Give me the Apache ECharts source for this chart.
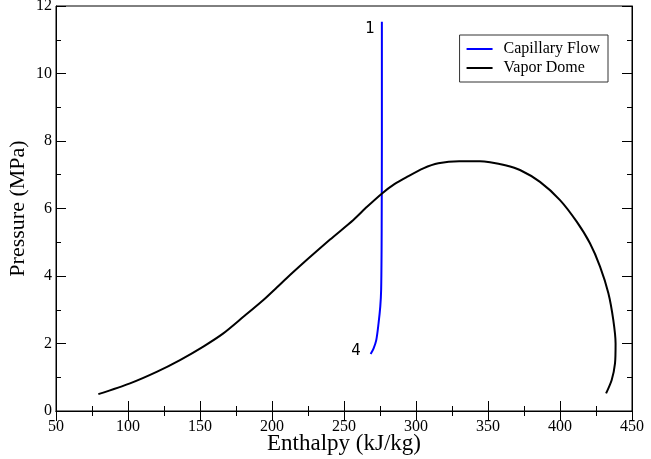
<!DOCTYPE html>
<html><head><meta charset="utf-8">
<script src="https://cdn.jsdelivr.net/npm/echarts@6/dist/echarts.min.js"></script>
<style>html,body{margin:0;padding:0;background:#fff}#c{width:651px;height:459px}</style>
</head><body><div id="c"></div>
<script>
const xTicks = [50,100,150,200,250,300,350,400,450];
const yTicks = [0,2,4,6,8,10,12];
const capH = [276.3,276.3,276.2,276.1,275.8,275.2,274.0,272.4,270.5,268.5];
const capP = [11.53,8.0,6.0,4.8,3.6,3.1,2.6,2.1,1.85,1.69];
const domeH = [79.4,101.4,119.9,136.1,152.3,166.2,180.1,194.0,203.3,212.5,225.2,240.3,256.5,266.0,276.2,285.0,293.5,305.1,315.5,330,344.4,351.4,362.0,372.2,386.1,400.0,411.6,420.8,427.8,433.6,437.0,438.6,438.2,435.9,432.0];
const domeP = [0.50,0.82,1.16,1.51,1.91,2.30,2.79,3.29,3.66,4.03,4.52,5.08,5.66,6.05,6.44,6.72,6.93,7.19,7.34,7.40,7.40,7.37,7.28,7.14,6.79,6.25,5.61,4.97,4.28,3.49,2.70,2.00,1.41,0.92,0.52];
const pointLabels = [{text:'1', h:268.1, p:11.33},{text:'4', h:258.3, p:1.76}];

const zip = (a,b)=>a.map((v,i)=>[v,b[i]]);
const serif = 'Liberation Serif';
const chart = echarts.init(document.getElementById('c'));
const tickStyle = {lineStyle:{color:'#000',width:1}};
const minor = {show:true,splitNumber:2,length:5,lineStyle:{color:'#000'}};
chart.setOption({
  animation:false,
  grid:{left:56,right:19,top:6,bottom:48,show:true,borderColor:'#000',borderWidth:1,
        containLabel:false, outerBoundsMode:'none'},
  legend:{
    right:43, top:35, orient:'vertical', padding:[6,8,6,6],
    borderColor:'#333', borderWidth:1, itemWidth:26, itemHeight:2, itemGap:3,
    textStyle:{fontFamily:serif,fontSize:16,color:'#000',padding:[0,0,0,6]},
    data:['Capillary Flow','Vapor Dome']
  },
  xAxis:[{
    type:'value', min:xTicks[0], max:xTicks[xTicks.length-1], interval:50,
    name:'Enthalpy (kJ/kg)', nameLocation:'middle', nameGap:21, nameMoveOverlap:false,
    nameTextStyle:{fontFamily:serif,fontSize:23,color:'#000'},
    axisLine:{show:true,lineStyle:{color:'#000'}},
    axisTick:{show:true,inside:true,length:10,...tickStyle},
    minorTick:minor, splitLine:{show:false},
    axisLabel:{fontFamily:serif,fontSize:16,color:'#000',margin:8}
  },{
    type:'value', position:'top', min:xTicks[0], max:xTicks[xTicks.length-1], interval:50,
    axisLine:{show:true,lineStyle:{color:'#000'}},
    axisTick:{show:true,inside:true,length:10,...tickStyle},
    minorTick:minor, splitLine:{show:false}, axisLabel:{show:false}
  }],
  yAxis:[{
    type:'value', min:yTicks[0], max:yTicks[yTicks.length-1], interval:2,
    name:'Pressure (MPa)', nameLocation:'middle', nameGap:27, nameMoveOverlap:false,
    nameTextStyle:{fontFamily:serif,fontSize:22,color:'#000'},
    axisLine:{show:true,lineStyle:{color:'#000'}},
    axisTick:{show:true,inside:true,length:10,...tickStyle},
    minorTick:minor, splitLine:{show:false},
    axisLabel:{fontFamily:serif,fontSize:16,color:'#000',margin:4}
  },{
    type:'value', position:'right', min:yTicks[0], max:yTicks[yTicks.length-1], interval:2,
    axisLine:{show:true,lineStyle:{color:'#000'}},
    axisTick:{show:true,inside:true,length:10,...tickStyle},
    minorTick:minor, splitLine:{show:false}, axisLabel:{show:false}
  }],
  series:[{
    name:'Capillary Flow', type:'line', showSymbol:false, symbol:'none', smooth:0.3,
    lineStyle:{color:'#0000ff',width:2}, itemStyle:{color:'#0000ff'},
    data:zip(capH,capP),
    markPoint:{
      symbol:'circle', symbolSize:0, silent:true,
      label:{show:true,position:'inside',fontFamily:'DejaVu Sans',fontSize:15,color:'#000',
        formatter:p=>p.name},
      data:pointLabels.map(d=>({name:d.text, coord:[d.h,d.p]}))
    }
  },{
    name:'Vapor Dome', type:'line', showSymbol:false, symbol:'none', smooth:0.25,
    lineStyle:{color:'#000',width:2}, itemStyle:{color:'#000'},
    data:zip(domeH,domeP)
  }]
});
</script></body></html>
